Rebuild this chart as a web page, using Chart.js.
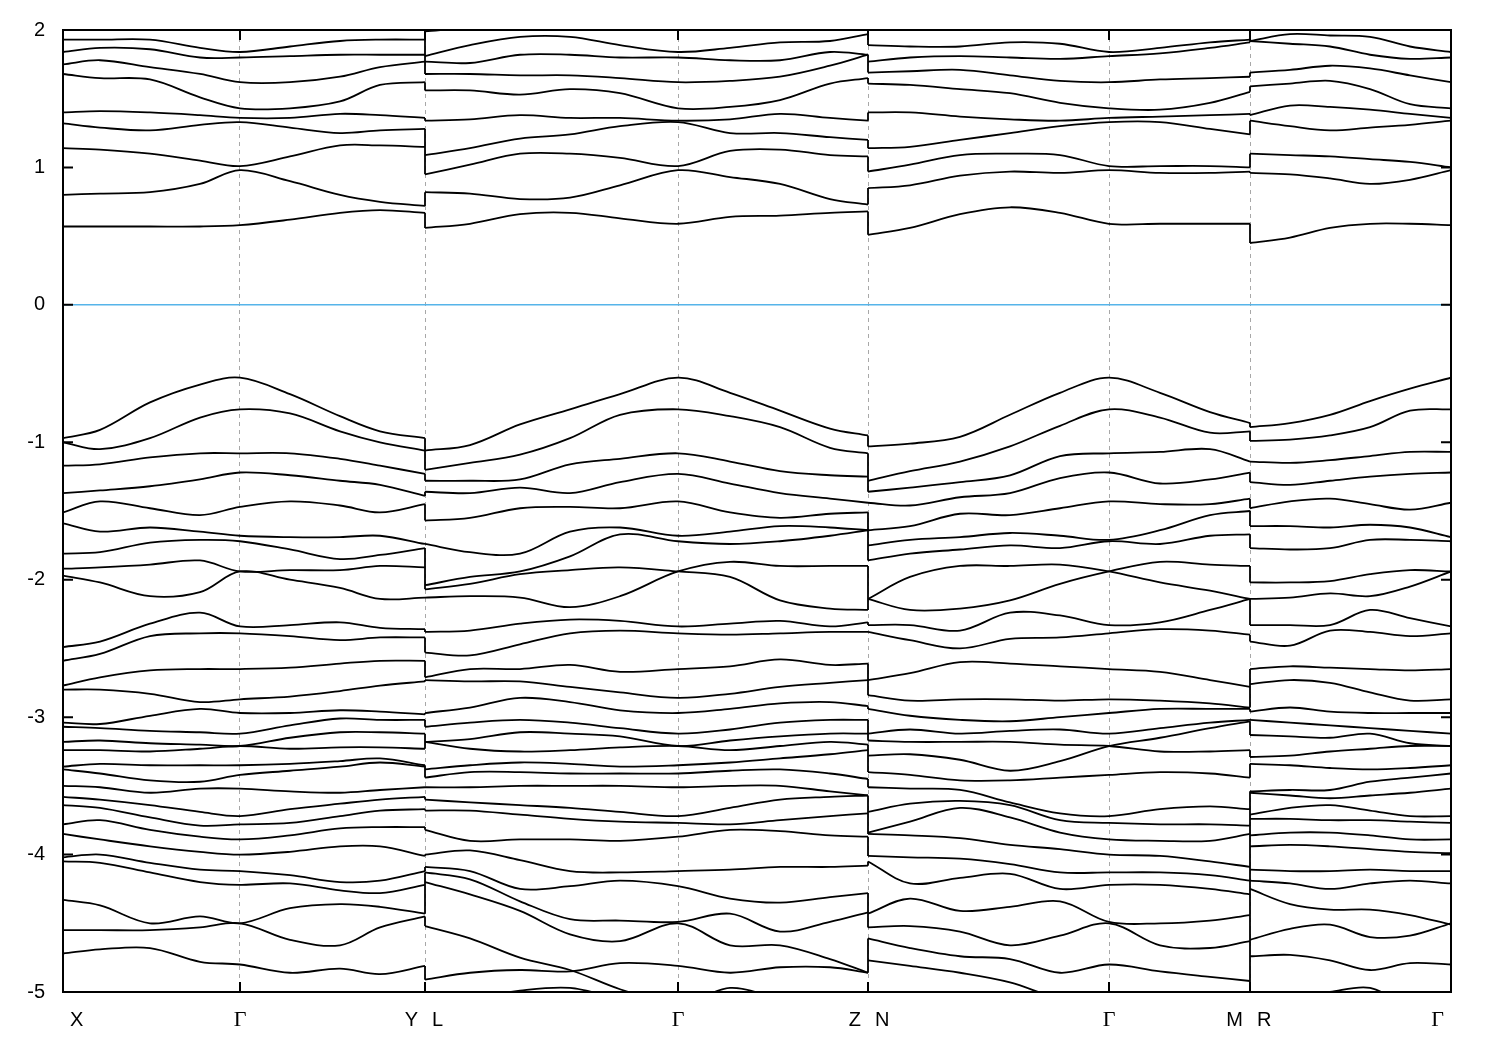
<!DOCTYPE html>
<html>
<head>
<meta charset="utf-8">
<script src="https://cdn.jsdelivr.net/npm/chart.js@4.4.1/dist/chart.umd.min.js"></script>
<style>
  html, body { margin: 0; padding: 0; background: #fff; }
  canvas { display: block; }
</style>
</head>
<body>
<canvas id="bands" width="1500" height="1050"></canvas>
<script>
// path coordinate of the sampled k-points, one list per segment
const kXGY = [0, 0.037, 0.087, 0.137, 0.177, 0.227, 0.277, 0.317, 0.362]
const kLGZ = [0.362, 0.407, 0.457, 0.507, 0.557, 0.615, 0.667, 0.717, 0.767, 0.805]
const kNGM = [0.805, 0.847, 0.897, 0.947, 0.997, 1.046, 1.097, 1.147, 1.187]
const kRG  = [1.187, 1.227, 1.267, 1.307, 1.347, 1.388]

// high symmetry points
const kTicks = [0, 0.177, 0.362, 0.615, 0.805, 1.046, 1.187, 1.388]
const kLabelPos = [0, 0.177, 0.362, 0.362, 0.615, 0.805, 0.805, 1.046, 1.187, 1.187, 1.388]
const kLabels = ['X', 'Γ', 'Y', 'L', 'Γ', 'Z', 'N', 'Γ', 'M', 'R', 'Γ']
const kAlign = ['left', 'center', 'right', 'left', 'center', 'right', 'left', 'center', 'right', 'left', 'right']
const yTicks = [2, 1, 0, -1, -2, -3, -4, -5]

// energies (eV), X - Γ - Y
const bandsXGY = [
  [1.93,1.93,1.93,1.87,1.84,1.88,1.92,1.93,1.93],
  [1.84,1.87,1.86,1.80,1.80,1.81,1.82,1.82,1.82],
  [1.75,1.78,1.73,1.68,1.62,1.62,1.66,1.73,1.77],
  [1.68,1.65,1.64,1.51,1.43,1.43,1.48,1.60,1.62],
  [1.40,1.41,1.40,1.38,1.36,1.36,1.39,1.38,1.36],
  [1.32,1.29,1.27,1.31,1.33,1.29,1.25,1.27,1.28],
  [1.14,1.13,1.10,1.05,1.01,1.08,1.16,1.16,1.15],
  [0.80,0.81,0.82,0.88,0.98,0.90,0.80,0.75,0.72],
  [0.57,0.57,0.57,0.57,0.58,0.62,0.67,0.69,0.67],
  [-0.97,-0.91,-0.71,-0.58,-0.53,-0.65,-0.81,-0.92,-0.97],
  [-1.00,-1.05,-0.97,-0.82,-0.76,-0.79,-0.92,-1.00,-1.06],
  [-1.17,-1.16,-1.11,-1.08,-1.08,-1.08,-1.12,-1.17,-1.23],
  [-1.37,-1.35,-1.32,-1.27,-1.22,-1.24,-1.28,-1.31,-1.39],
  [-1.51,-1.43,-1.48,-1.53,-1.47,-1.43,-1.46,-1.51,-1.45],
  [-1.59,-1.65,-1.62,-1.65,-1.68,-1.69,-1.69,-1.68,-1.74],
  [-1.81,-1.80,-1.73,-1.71,-1.72,-1.78,-1.85,-1.82,-1.77],
  [-1.92,-1.91,-1.89,-1.86,-1.94,-1.93,-1.93,-1.90,-1.91],
  [-1.97,-2.02,-2.12,-2.09,-1.94,-2.00,-2.06,-2.14,-2.13],
  [-2.49,-2.45,-2.32,-2.24,-2.34,-2.33,-2.31,-2.35,-2.36],
  [-2.59,-2.54,-2.41,-2.39,-2.39,-2.41,-2.44,-2.42,-2.42],
  [-2.77,-2.71,-2.66,-2.65,-2.65,-2.64,-2.61,-2.59,-2.59],
  [-2.80,-2.80,-2.83,-2.89,-2.87,-2.85,-2.81,-2.77,-2.74],
  [-3.04,-3.05,-2.99,-2.94,-2.97,-2.97,-2.95,-2.96,-2.98],
  [-3.07,-3.08,-3.10,-3.11,-3.12,-3.06,-3.01,-3.02,-3.02],
  [-3.18,-3.17,-3.19,-3.20,-3.21,-3.15,-3.11,-3.11,-3.12],
  [-3.24,-3.24,-3.25,-3.23,-3.21,-3.23,-3.22,-3.22,-3.23],
  [-3.36,-3.34,-3.35,-3.35,-3.35,-3.34,-3.32,-3.30,-3.35],
  [-3.38,-3.41,-3.46,-3.47,-3.42,-3.39,-3.36,-3.33,-3.36],
  [-3.50,-3.51,-3.55,-3.52,-3.52,-3.54,-3.55,-3.53,-3.51],
  [-3.58,-3.60,-3.64,-3.69,-3.72,-3.67,-3.63,-3.60,-3.58],
  [-3.64,-3.66,-3.73,-3.79,-3.78,-3.77,-3.72,-3.68,-3.67],
  [-3.78,-3.75,-3.82,-3.87,-3.89,-3.86,-3.81,-3.80,-3.80],
  [-3.85,-3.89,-3.94,-3.98,-4.00,-3.98,-3.94,-3.94,-4.01],
  [-4.02,-4.00,-4.06,-4.11,-4.12,-4.15,-4.20,-4.19,-4.12],
  [-4.05,-4.06,-4.13,-4.20,-4.22,-4.21,-4.26,-4.28,-4.22],
  [-4.33,-4.37,-4.50,-4.45,-4.50,-4.39,-4.36,-4.38,-4.43],
  [-4.55,-4.55,-4.55,-4.53,-4.50,-4.62,-4.66,-4.53,-4.45],
  [-4.72,-4.69,-4.68,-4.78,-4.80,-4.86,-4.83,-4.87,-4.81]
]

// L - Γ - Z
const bandsLGZ = [
  [1.99,2.02,2.08,2.10,2.10,2.10,2.10,2.08,2.03,2.00],
  [1.81,1.89,1.95,1.95,1.89,1.84,1.87,1.91,1.92,1.97],
  [1.77,1.76,1.82,1.82,1.80,1.80,1.78,1.78,1.84,1.82],
  [1.68,1.68,1.67,1.67,1.65,1.62,1.63,1.66,1.74,1.82],
  [1.56,1.56,1.53,1.57,1.54,1.43,1.44,1.49,1.61,1.65],
  [1.34,1.35,1.38,1.36,1.36,1.34,1.35,1.39,1.36,1.34],
  [1.09,1.14,1.21,1.24,1.30,1.33,1.25,1.25,1.22,1.20],
  [0.95,1.02,1.10,1.10,1.07,1.01,1.12,1.13,1.09,1.08],
  [0.82,0.81,0.77,0.78,0.87,0.98,0.93,0.88,0.77,0.73],
  [0.56,0.59,0.66,0.67,0.63,0.59,0.64,0.65,0.67,0.68],
  [-1.06,-1.02,-0.87,-0.76,-0.65,-0.53,-0.64,-0.77,-0.90,-0.95],
  [-1.20,-1.15,-1.09,-0.97,-0.80,-0.76,-0.81,-0.89,-1.04,-1.08],
  [-1.28,-1.28,-1.27,-1.16,-1.12,-1.08,-1.14,-1.21,-1.24,-1.25],
  [-1.36,-1.37,-1.33,-1.37,-1.29,-1.23,-1.30,-1.37,-1.41,-1.44],
  [-1.57,-1.55,-1.48,-1.47,-1.48,-1.43,-1.51,-1.55,-1.52,-1.51],
  [-1.74,-1.80,-1.81,-1.65,-1.62,-1.68,-1.65,-1.61,-1.62,-1.64],
  [-2.04,-1.98,-1.94,-1.83,-1.67,-1.72,-1.74,-1.72,-1.68,-1.64],
  [-2.07,-2.03,-1.96,-1.93,-1.91,-1.94,-1.98,-2.15,-2.21,-2.22],
  [-2.13,-2.12,-2.13,-2.20,-2.12,-1.94,-1.87,-1.90,-1.90,-1.90],
  [-2.38,-2.37,-2.32,-2.29,-2.30,-2.34,-2.32,-2.30,-2.34,-2.31],
  [-2.53,-2.55,-2.47,-2.39,-2.37,-2.39,-2.40,-2.39,-2.38,-2.38],
  [-2.71,-2.65,-2.65,-2.62,-2.67,-2.65,-2.63,-2.58,-2.62,-2.61],
  [-2.73,-2.74,-2.74,-2.78,-2.82,-2.86,-2.83,-2.78,-2.75,-2.73],
  [-2.97,-2.93,-2.86,-2.89,-2.95,-2.97,-2.94,-2.90,-2.89,-2.92],
  [-3.07,-3.04,-3.02,-3.04,-3.08,-3.12,-3.09,-3.04,-3.02,-3.02],
  [-3.18,-3.16,-3.11,-3.12,-3.14,-3.21,-3.17,-3.14,-3.12,-3.12],
  [-3.18,-3.23,-3.25,-3.24,-3.22,-3.21,-3.24,-3.21,-3.18,-3.20],
  [-3.38,-3.35,-3.33,-3.34,-3.36,-3.35,-3.33,-3.30,-3.27,-3.24],
  [-3.44,-3.40,-3.40,-3.41,-3.41,-3.41,-3.39,-3.38,-3.41,-3.45],
  [-3.51,-3.51,-3.50,-3.50,-3.50,-3.51,-3.50,-3.50,-3.54,-3.57],
  [-3.60,-3.62,-3.64,-3.66,-3.69,-3.72,-3.66,-3.60,-3.58,-3.57],
  [-3.68,-3.68,-3.71,-3.74,-3.76,-3.77,-3.78,-3.75,-3.72,-3.70],
  [-3.82,-3.90,-3.89,-3.89,-3.90,-3.87,-3.82,-3.83,-3.86,-3.87],
  [-4.00,-3.97,-4.04,-4.12,-4.13,-4.12,-4.11,-4.09,-4.09,-4.08],
  [-4.09,-4.12,-4.25,-4.23,-4.19,-4.23,-4.32,-4.35,-4.31,-4.28],
  [-4.13,-4.18,-4.34,-4.47,-4.48,-4.49,-4.43,-4.56,-4.49,-4.42],
  [-4.20,-4.29,-4.41,-4.58,-4.63,-4.50,-4.66,-4.66,-4.76,-4.86],
  [-4.52,-4.61,-4.75,-4.84,-4.98,-5.10,-5.15,-5.10,-5.10,-5.10],
  [-4.91,-4.86,-4.84,-4.85,-4.79,-4.81,-4.86,-4.82,-4.82,-4.86],
  [-5.10,-5.05,-4.99,-4.97,-5.05,-5.10,-4.97,-5.05,-5.10,-5.10]
]

// N - Γ - M
const bandsNGM = [
  [1.89,1.88,1.88,1.91,1.90,1.84,1.87,1.91,1.93],
  [1.77,1.80,1.81,1.80,1.79,1.81,1.83,1.87,1.91],
  [1.69,1.70,1.71,1.67,1.63,1.62,1.64,1.65,1.66],
  [1.61,1.60,1.57,1.54,1.47,1.43,1.42,1.47,1.55],
  [1.40,1.40,1.37,1.35,1.34,1.36,1.37,1.38,1.39],
  [1.14,1.15,1.20,1.25,1.30,1.33,1.33,1.28,1.24],
  [0.97,1.02,1.09,1.10,1.09,1.01,1.01,1.01,1.00],
  [0.85,0.87,0.94,0.97,0.96,0.98,0.96,0.96,0.97],
  [0.51,0.56,0.66,0.71,0.67,0.59,0.59,0.59,0.59],
  [-1.03,-1.01,-0.96,-0.80,-0.64,-0.53,-0.64,-0.78,-0.86],
  [-1.28,-1.21,-1.14,-1.03,-0.88,-0.76,-0.82,-0.93,-0.92],
  [-1.36,-1.33,-1.29,-1.24,-1.10,-1.08,-1.07,-1.05,-1.14],
  [-1.44,-1.46,-1.40,-1.37,-1.26,-1.22,-1.30,-1.27,-1.22],
  [-1.64,-1.61,-1.52,-1.53,-1.48,-1.43,-1.45,-1.45,-1.41],
  [-1.75,-1.71,-1.69,-1.66,-1.68,-1.71,-1.64,-1.53,-1.50],
  [-1.86,-1.81,-1.78,-1.75,-1.77,-1.72,-1.74,-1.68,-1.67],
  [-2.14,-1.98,-1.90,-1.90,-1.89,-1.94,-2.02,-2.08,-2.14],
  [-2.14,-2.22,-2.21,-2.15,-2.03,-1.94,-1.87,-1.89,-1.90],
  [-2.33,-2.33,-2.37,-2.24,-2.26,-2.33,-2.31,-2.22,-2.14],
  [-2.38,-2.44,-2.50,-2.43,-2.42,-2.39,-2.36,-2.37,-2.40],
  [-2.73,-2.68,-2.60,-2.61,-2.63,-2.65,-2.67,-2.73,-2.78],
  [-2.84,-2.88,-2.87,-2.87,-2.88,-2.87,-2.88,-2.90,-2.93],
  [-2.94,-2.99,-3.02,-3.03,-3.00,-2.97,-2.94,-2.94,-2.94],
  [-3.12,-3.09,-3.12,-3.10,-3.09,-3.12,-3.08,-3.04,-3.02],
  [-3.17,-3.18,-3.18,-3.18,-3.20,-3.21,-3.25,-3.25,-3.24],
  [-3.28,-3.27,-3.31,-3.39,-3.32,-3.21,-3.15,-3.08,-3.03],
  [-3.40,-3.42,-3.46,-3.46,-3.44,-3.42,-3.40,-3.41,-3.44],
  [-3.51,-3.52,-3.53,-3.62,-3.70,-3.72,-3.67,-3.65,-3.67],
  [-3.69,-3.63,-3.61,-3.64,-3.75,-3.77,-3.78,-3.78,-3.79],
  [-3.84,-3.76,-3.66,-3.73,-3.84,-3.89,-3.90,-3.90,-3.85],
  [-3.85,-3.86,-3.88,-3.93,-3.96,-4.00,-4.01,-4.05,-4.09],
  [-4.01,-4.02,-4.03,-4.07,-4.13,-4.13,-4.13,-4.15,-4.19],
  [-4.05,-4.21,-4.17,-4.14,-4.25,-4.22,-4.22,-4.25,-4.29],
  [-4.43,-4.32,-4.41,-4.38,-4.34,-4.49,-4.50,-4.48,-4.44],
  [-4.53,-4.52,-4.56,-4.66,-4.59,-4.50,-4.66,-4.68,-4.63],
  [-4.61,-4.68,-4.74,-4.76,-4.86,-4.80,-4.85,-4.89,-4.92],
  [-4.77,-4.81,-4.86,-4.93,-5.05,-5.10,-5.02,-5.10,-5.10]
]

// R - Γ
const bandsRG = [
  [1.92,1.97,1.96,1.95,1.88,1.84],
  [1.92,1.90,1.88,1.82,1.79,1.80],
  [1.69,1.71,1.74,1.72,1.67,1.62],
  [1.59,1.61,1.63,1.57,1.46,1.43],
  [1.38,1.45,1.44,1.42,1.39,1.36],
  [1.34,1.30,1.27,1.29,1.31,1.34],
  [1.10,1.09,1.08,1.06,1.04,1.00],
  [0.96,0.95,0.92,0.88,0.91,0.98],
  [0.45,0.49,0.56,0.59,0.59,0.58],
  [-0.89,-0.86,-0.80,-0.70,-0.61,-0.53],
  [-0.99,-0.98,-0.95,-0.89,-0.77,-0.76],
  [-1.14,-1.15,-1.13,-1.10,-1.07,-1.07],
  [-1.29,-1.31,-1.28,-1.25,-1.23,-1.22],
  [-1.48,-1.43,-1.41,-1.45,-1.49,-1.44],
  [-1.61,-1.61,-1.62,-1.60,-1.62,-1.69],
  [-1.77,-1.78,-1.77,-1.71,-1.71,-1.72],
  [-2.02,-2.02,-2.01,-1.96,-1.93,-1.94],
  [-2.14,-2.13,-2.10,-2.12,-2.05,-1.94],
  [-2.33,-2.33,-2.33,-2.22,-2.28,-2.34],
  [-2.45,-2.48,-2.37,-2.38,-2.41,-2.39],
  [-2.65,-2.63,-2.64,-2.65,-2.66,-2.65],
  [-2.76,-2.73,-2.75,-2.82,-2.88,-2.87],
  [-2.96,-2.93,-2.96,-2.97,-2.97,-2.97],
  [-3.02,-3.04,-3.06,-3.08,-3.10,-3.12],
  [-3.13,-3.14,-3.15,-3.12,-3.19,-3.21],
  [-3.29,-3.28,-3.25,-3.23,-3.21,-3.21],
  [-3.34,-3.35,-3.37,-3.38,-3.37,-3.35],
  [-3.54,-3.53,-3.53,-3.47,-3.44,-3.41],
  [-3.55,-3.57,-3.59,-3.57,-3.55,-3.52],
  [-3.71,-3.66,-3.64,-3.68,-3.72,-3.72],
  [-3.74,-3.74,-3.75,-3.75,-3.76,-3.77],
  [-3.86,-3.84,-3.84,-3.86,-3.89,-3.89],
  [-3.94,-3.93,-3.94,-3.96,-3.98,-3.99],
  [-4.11,-4.12,-4.12,-4.11,-4.12,-4.12],
  [-4.19,-4.21,-4.25,-4.21,-4.19,-4.21],
  [-4.25,-4.36,-4.40,-4.40,-4.44,-4.51],
  [-4.62,-4.54,-4.51,-4.60,-4.59,-4.50],
  [-4.74,-4.73,-4.77,-4.84,-4.79,-4.80],
  [-5.10,-5.05,-5.00,-4.97,-5.10,-5.10]
]

const segments = [
  [kXGY, bandsXGY],
  [kLGZ, bandsLGZ],
  [kNGM, bandsNGM],
  [kRG, bandsRG]
]

let datasets = []
segments.forEach(([k, bands]) => {
  bands.forEach(b => {
    datasets.push({
      data: k.map((x, i) => ({x: x, y: b[i]})),
      borderColor: '#000',
      borderWidth: 1.8,
      pointRadius: 0,
      tension: 0.35
    })
  })
})

// vertical jumps where the path breaks: join band ends by their order from the gap
function jumps(kb, left, right) {
  let pts = []
  let ends = left.map(b => b[b.length - 1])
  let starts = right.map(b => b[0])
  function pair(a, b) {
    for (let i = 0; i < Math.min(a.length, b.length); i++) {
      pts.push({x: kb, y: a[i]}, {x: kb, y: b[i]}, {x: kb, y: null})
    }
  }
  pair(ends.filter(v => v > 0).sort((a, b) => a - b), starts.filter(v => v > 0).sort((a, b) => a - b))
  pair(ends.filter(v => v < 0).sort((a, b) => b - a), starts.filter(v => v < 0).sort((a, b) => b - a))
  return pts
}
for (let s = 0; s < segments.length - 1; s++) {
  let kEnd = segments[s][0][segments[s][0].length - 1]
  datasets.push({
    data: jumps(kEnd, segments[s][1], segments[s + 1][1]),
    borderColor: '#000',
    borderWidth: 1.8,
    pointRadius: 0,
    tension: 0,
    spanGaps: false
  })
}

const framePlugin = {
  id: 'frame',
  afterDatasetsDraw(chart) {
    const {ctx, chartArea: a, scales: {x, y}} = chart
    ctx.save()
    ctx.strokeStyle = '#000'
    ctx.lineWidth = 2
    ctx.strokeRect(a.left, a.top, a.right - a.left, a.bottom - a.top)
    ctx.beginPath()
    yTicks.forEach(v => {
      const py = y.getPixelForValue(v)
      ctx.moveTo(a.left, py); ctx.lineTo(a.left + 10, py)
      ctx.moveTo(a.right, py); ctx.lineTo(a.right - 10, py)
    })
    kTicks.forEach(v => {
      const px = x.getPixelForValue(v)
      ctx.moveTo(px, a.bottom); ctx.lineTo(px, a.bottom - 10)
      ctx.moveTo(px, a.top); ctx.lineTo(px, a.top + 10)
    })
    ctx.stroke()
    ctx.fillStyle = '#000'
    ctx.textBaseline = 'middle'
    kLabels.forEach((t, i) => {
      let px = x.getPixelForValue(kLabelPos[i])
      if (kAlign[i] === 'left') px += 7
      if (kAlign[i] === 'right') px -= 7
      ctx.textAlign = kAlign[i]
      ctx.font = t === 'Γ' ? '22px "Liberation Serif"' : '20px "Liberation Sans"'
      ctx.fillText(t, px, a.bottom + 28)
    })
    ctx.restore()
  }
}

const ctx = document.getElementById('bands')
const myChart = new Chart(ctx, {
  type: 'line',
  data: {datasets: datasets},
  options: {
    responsive: false,
    animation: false,
    layout: {padding: {left: 0, right: 49, top: 28, bottom: 0}},
    plugins: {legend: {display: false}, tooltip: {enabled: false}},
    scales: {
      x: {
        type: 'linear',
        min: 0,
        max: 1.388,
        afterBuildTicks: s => { s.ticks = kTicks.map(v => ({value: v})) },
        afterFit: s => { s.height = 58 },
        ticks: {display: false},
        grid: {
          drawTicks: false,
          color: c => (c.tick && (c.tick.value === 0 || c.tick.value === 1.388)) ? 'rgba(0,0,0,0)' : '#a8a8a8',
          lineWidth: 1
        },
        border: {display: false, dash: [4, 4]}
      },
      y: {
        min: -5,
        max: 2,
        afterBuildTicks: s => { s.ticks = yTicks.map(v => ({value: v})) },
        afterFit: s => { s.width = 63 },
        ticks: {
          color: '#000',
          padding: 18,
          font: {family: 'Liberation Sans', size: 20}
        },
        grid: {
          drawTicks: false,
          color: c => (c.tick && c.tick.value === 0) ? '#56b4e9' : 'rgba(0,0,0,0)',
          lineWidth: 1.5
        },
        border: {display: false}
      }
    }
  },
  plugins: [framePlugin]
})
</script>
</body>
</html>
